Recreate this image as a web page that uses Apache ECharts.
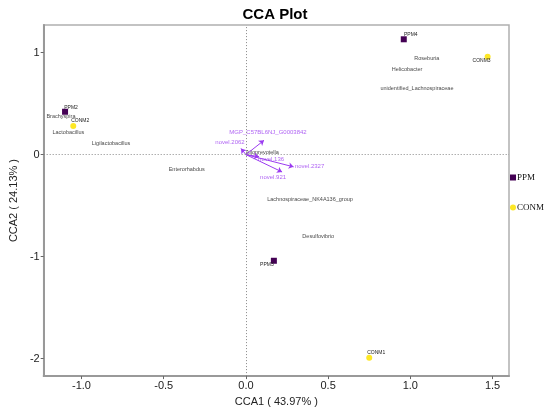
<!DOCTYPE html>
<html lang="en">
<head>
    <meta charset="UTF-8">
    <title>CCA Plot</title>
    <script src="https://cdn.jsdelivr.net/npm/echarts@6/dist/echarts.min.js"></script>
    <style>
        html, body {margin: 0; padding: 0; background: #ffffff;}
        #chart {width: 550px; height: 412px;}
    </style>
</head>
<body>
<div id="chart"></div>
<script>
    // 样本点
    var sampleNames = ['PPM2', 'PPM3', 'PPM4', 'CONM1', 'CONM2', 'CONM3'];
    var sampleGroup = ['PPM', 'PPM', 'PPM', 'CONM', 'CONM', 'CONM'];
    var sampleX = [-1.10, 0.17, 0.96, 0.75, -1.05, 1.47];
    var sampleY = [0.42, -1.04, 1.13, -1.99, 0.28, 0.96];

    // 物种
    var speciesNames = ['Brachyspira', 'Lactobacillus', 'Ligilactobacillus', 'Enterorhabdus', 'Roseburia',
        'Helicobacter', 'unidentified_Lachnospiraceae', 'Lachnospiraceae_NK4A136_group', 'Desulfovibrio', 'Alloprevotella'];
    var speciesX = [-1.125, -1.08, -0.82, -0.36, 1.10, 0.98, 1.04, 0.39, 0.44, 0.10];
    var speciesY = [0.37, 0.22, 0.11, -0.15, 0.94, 0.83, 0.65, -0.44, -0.80, 0.02];

    // 环境因子箭头
    var envNames = ['MGP_C57BL6NJ_G0003842', 'novel.2062', 'novel.136', 'novel.2327', 'novel.921'];
    var envX = [0.11, -0.03, 0.08, 0.29, 0.22];
    var envY = [0.14, 0.06, -0.02, -0.12, -0.17];

    var xTicks = [-1.0, -0.5, 0.0, 0.5, 1.0, 1.5];
    var yTicks = [-2, -1, 0, 1];

    var groupColor = {PPM: '#440154', CONM: '#FDE725'};
    var groupSymbol = {PPM: 'rect', CONM: 'circle'};
    // 标签偏移 (px)
    var sampleLabelOffset = {PPM2: [6, -4], PPM3: [-7, 4], PPM4: [7, -5], CONM1: [7, -5], CONM2: [7, -5], CONM3: [-6, 4]};
    var envLabelOffset = [[4, -8], [-11, -6], [12, 3], [16, -1], [-9, 5]];
    var arrowColor = '#9b3bf0';
    var sans = 'Liberation Sans, Arial, sans-serif';

    var chart = echarts.init(document.getElementById('chart'));

    function groupSeries(g) {
        var data = [];
        for (var i = 0; i < sampleNames.length; i++) {
            if (sampleGroup[i] !== g) continue;
            data.push({
                name: sampleNames[i],
                value: [sampleX[i], sampleY[i]],
                label: {offset: sampleLabelOffset[sampleNames[i]]}
            });
        }
        return {
            name: g,
            type: 'scatter',
            symbol: groupSymbol[g],
            symbolSize: 6,
            itemStyle: {color: groupColor[g], opacity: 1},
            z: 5,
            label: {
                show: true,
                position: 'inside',
                formatter: '{b}',
                fontSize: 5,
                fontFamily: sans,
                color: '#222'
            },
            data: data
        };
    }

    var speciesData = speciesNames.map(function (n, i) {
        return {name: n, value: [speciesX[i], speciesY[i]]};
    });

    var arrowData = envNames.map(function (n, i) {
        return {coords: [[0, 0], [envX[i], envY[i]]]};
    });

    var envLabelData = envNames.map(function (n, i) {
        return {name: n, value: [envX[i], envY[i]], label: {offset: envLabelOffset[i]}};
    });

    var option = {
        animation: false,
        title: {
            text: 'CCA Plot',
            left: 'center',
            top: 2,
            textStyle: {fontSize: 15, fontWeight: 'bold', color: '#000', fontFamily: sans}
        },
        legend: {
            data: ['PPM', 'CONM'],
            orient: 'vertical',
            left: 505,
            top: 168,
            itemWidth: 6,
            itemHeight: 6,
            itemGap: 21,
            itemStyle: {opacity: 1},
            textStyle: {fontFamily: 'Liberation Serif, Times New Roman, serif', fontSize: 9, color: '#111', padding: [0, 0, 0, -4]}
        },
        grid: {
            left: 34,
            right: 41,
            top: 25,
            bottom: 31,
            show: true,
            borderColor: '#b0b0b0',
            borderWidth: 1.5,
            containLabel: false
        },
        xAxis: {
            type: 'value',
            min: -1.23,
            max: 1.60,
            name: 'CCA1 ( 43.97% )',
            nameLocation: 'middle',
            nameGap: 17,
            nameTextStyle: {fontSize: 11, color: '#222', fontFamily: sans},
            splitLine: {show: false},
            axisLine: {onZero: false, lineStyle: {color: '#999', width: 2}},
            axisTick: {show: true, length: 3, customValues: xTicks, lineStyle: {color: '#666'}},
            axisLabel: {
                customValues: xTicks,
                fontSize: 11, color: '#222', margin: 4, fontFamily: sans,
                formatter: function (v) { return v.toFixed(1); }
            }
        },
        yAxis: {
            type: 'value',
            min: -2.17,
            max: 1.27,
            name: 'CCA2 ( 24.13% )',
            nameLocation: 'middle',
            nameGap: 21,
            nameTextStyle: {fontSize: 11, color: '#222', fontFamily: sans},
            splitLine: {show: false},
            axisLine: {onZero: false, lineStyle: {color: '#999', width: 2}},
            axisTick: {show: true, length: 3, customValues: yTicks, lineStyle: {color: '#666'}},
            axisLabel: {
                customValues: yTicks,
                fontSize: 11, color: '#222', margin: 4, fontFamily: sans
            }
        },
        series: [
            {
                name: 'species',
                type: 'scatter',
                symbolSize: 0.1,
                itemStyle: {color: 'transparent'},
                label: {
                    show: true,
                    position: 'inside',
                    formatter: '{b}',
                    fontSize: 5.5,
                    fontFamily: sans,
                    color: '#111'
                },
                markLine: {
                    silent: true,
                    symbol: 'none',
                    label: {show: false},
                    lineStyle: {type: [1, 2], color: '#888', width: 1},
                    data: [{xAxis: 0}, {yAxis: 0}]
                },
                data: speciesData
            },
            {
                name: 'arrows',
                type: 'lines',
                coordinateSystem: 'cartesian2d',
                symbol: ['none', 'arrow'],
                symbolSize: 5,
                lineStyle: {color: arrowColor, width: 1, opacity: 1},
                z: 4,
                data: arrowData
            },
            {
                name: 'envLabels',
                type: 'scatter',
                symbolSize: 0.1,
                itemStyle: {color: 'transparent'},
                label: {
                    show: true,
                    position: 'inside',
                    formatter: '{b}',
                    fontSize: 6,
                    fontFamily: sans,
                    color: arrowColor
                },
                z: 4,
                data: envLabelData
            },
            groupSeries('PPM'),
            groupSeries('CONM')
        ]
    };
    chart.setOption(option);
</script>
</body>
</html>
